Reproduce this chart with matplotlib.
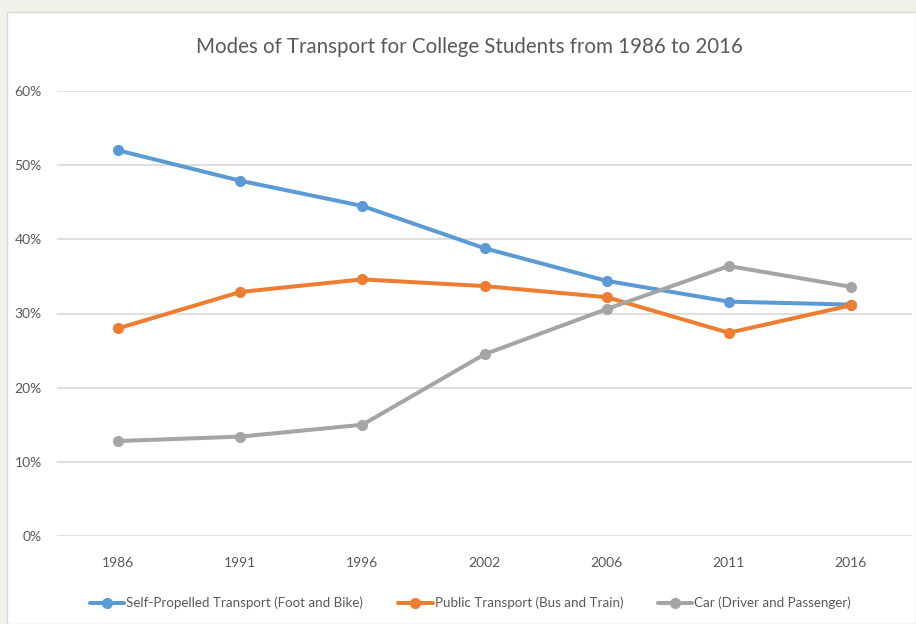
import matplotlib
matplotlib.use("Agg")
import matplotlib.pyplot as plt
from matplotlib.patches import Rectangle
from matplotlib.ticker import FuncFormatter

years = ["1986", "1991", "1996", "2002", "2006", "2011", "2016"]
self_propelled = [52.0, 47.9, 44.5, 38.8, 34.4, 31.6, 31.2]
public = [28.0, 32.9, 34.6, 33.7, 32.2, 27.4, 31.1]
car = [12.8, 13.4, 15.0, 24.5, 30.6, 36.4, 33.6]
labels = ["Self-Propelled Transport (Foot and Bike)",
          "Public Transport (Bus and Train)",
          "Car (Driver and Passenger)"]
colors = ["#5b9bd5", "#ed7d31", "#a5a5a5"]

plt.rcParams['font.family'] = ['Lato', 'DejaVu Sans']
W, H = 916, 624
fig = plt.figure(figsize=(W/100, H/100), dpi=100, facecolor="#f2f0ea")
bg = Rectangle((7/W, 0), (W-7)/W, (H-12)/H, transform=fig.transFigure,
               facecolor="white", edgecolor="#d9d9d9", linewidth=1, zorder=-10)
fig.patches.append(bg)

ax = fig.add_axes([57/W, (H-536)/H, (912-57)/W, (536-91)/H])
ax.set_zorder(5)
ax.set_facecolor("none")
x = list(range(len(years)))
for vals, lab, c in zip([self_propelled, public, car], labels, colors):
    ax.plot(x, vals, color=c, linewidth=2.9, marker="o", markersize=7,
            label=lab, solid_capstyle="round", zorder=3)

ax.set_xlim(-0.5, len(years) - 0.5)
ax.set_ylim(0, 60)
ax.set_yticks(range(0, 61, 10))
ax.yaxis.set_major_formatter(FuncFormatter(lambda v, p: f"{int(v)}%"))
ax.set_xticks(x)
ax.set_xticklabels(years)
ax.grid(axis="y", color="#d9d9d9", linewidth=1.2, zorder=0)
for s in ax.spines.values():
    s.set_visible(False)
ax.tick_params(axis="both", length=0, labelsize=10, colors="#595959")
ax.tick_params(axis="y", pad=11)
ax.tick_params(axis="x", pad=15)

fig.text(469/W, 1 - 47/H, "Modes of Transport for College Students from 1986 to 2016",
         ha="center", va="center", fontsize=14.8, color="#595959", zorder=6)

leg = ax.legend(loc="center", bbox_to_anchor=(0.4836, (536 - 603) / 445), ncol=3, frameon=False,
                fontsize=9.6, handlelength=2.6, columnspacing=2.6, handletextpad=0.15,
                labelcolor="#595959")

fig.savefig("out.png", dpi=100, facecolor=fig.get_facecolor())
